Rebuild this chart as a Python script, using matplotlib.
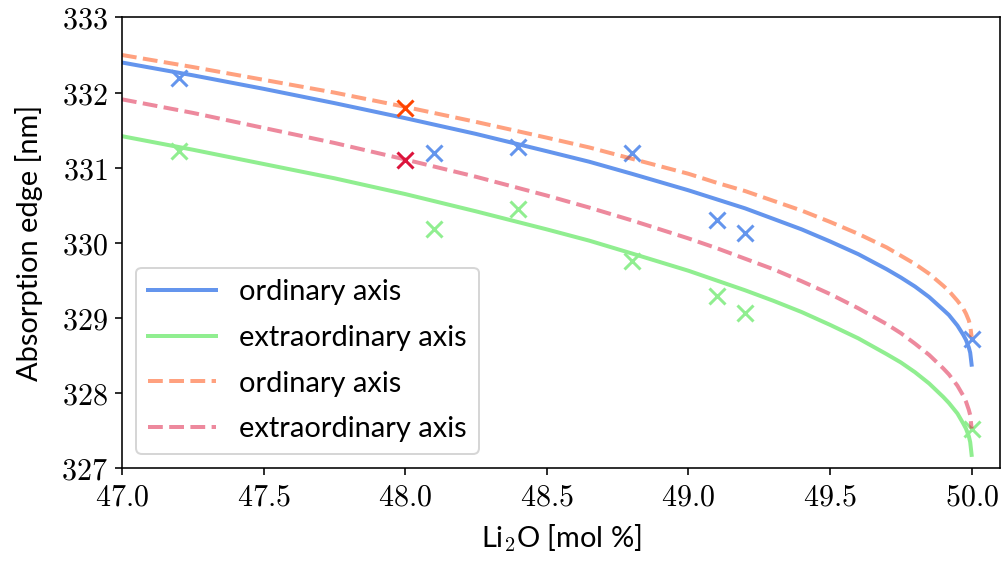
import matplotlib
matplotlib.use("Agg")
import matplotlib.pyplot as plt
from matplotlib.ticker import FuncFormatter

plt.rcParams["mathtext.fontset"] = "cm"
plt.rcParams["font.family"] = ["Lato", "DejaVu Sans"]

# measured absorption edges
li2o_meas = [47.2, 48.1, 48.4, 48.8, 49.1, 49.2, 50.0]
ord_meas = [332.2, 331.2, 331.27, 331.2, 330.3, 330.13, 328.72]
ext_meas = [331.22, 330.18, 330.45, 329.76, 329.29, 329.07, 327.52]

# single extra points at 48.0 mol %
li2o_extra = [48.0]
ord_extra = [331.8]
ext_extra = [331.1]

# fitted curves
li2o_fit = [47.0, 47.25, 47.5, 47.75, 48.0, 48.25, 48.5, 48.65, 48.8, 49.0,
            49.1, 49.2, 49.3, 49.4, 49.5, 49.6, 49.7, 49.75, 49.8, 49.85,
            49.9, 49.92, 49.95, 49.97, 49.98, 49.99, 49.995, 50.0]
ord_fit = [332.40, 332.23, 332.05, 331.86, 331.66, 331.45, 331.22, 331.08,
           330.92, 330.70, 330.58, 330.46, 330.32, 330.18, 330.02, 329.85,
           329.65, 329.54, 329.42, 329.28, 329.11, 329.04, 328.90, 328.78,
           328.71, 328.61, 328.54, 328.38]
ext_fit = [331.42, 331.24, 331.05, 330.86, 330.65, 330.42, 330.18, 330.03,
           329.86, 329.63, 329.50, 329.37, 329.23, 329.08, 328.91, 328.73,
           328.52, 328.41, 328.28, 328.13, 327.95, 327.87, 327.73, 327.60,
           327.53, 327.43, 327.35, 327.18]
ord_fit2 = [332.50, 332.34, 332.17, 332.00, 331.81, 331.61, 331.40, 331.27,
            331.12, 330.92, 330.80, 330.69, 330.56, 330.43, 330.28, 330.12,
            329.94, 329.83, 329.72, 329.59, 329.43, 329.36, 329.23, 329.13,
            329.06, 328.97, 328.90, 328.75]
ext_fit2 = [331.91, 331.73, 331.53, 331.33, 331.11, 330.88, 330.63, 330.47,
            330.30, 330.06, 329.93, 329.79, 329.65, 329.49, 329.32, 329.13,
            328.92, 328.80, 328.66, 328.51, 328.33, 328.25, 328.10, 327.97,
            327.89, 327.78, 327.71, 327.53]

fig, ax = plt.subplots(figsize=(7, 3.91), dpi=144)
fig.subplots_adjust(left=0.121, right=0.992, top=0.969, bottom=0.168)

ax.plot(li2o_fit, ord_fit, color="cornflowerblue", lw=2, label="ordinary axis")
ax.plot(li2o_fit, ext_fit, color="lightgreen", lw=2, label="extraordinary axis")
ax.plot(li2o_meas, ord_meas, "x", color="cornflowerblue", ms=8, mew=1.5)
ax.plot(li2o_meas, ext_meas, "x", color="lightgreen", ms=8, mew=1.5)

ax.plot(li2o_fit, ord_fit2, "--", color="orangered", alpha=0.5, lw=2,
        label="ordinary axis")
ax.plot(li2o_fit, ext_fit2, "--", color="crimson", alpha=0.5, lw=2,
        label="extraordinary axis")
ax.plot(li2o_extra, ord_extra, "x", color="orangered", ms=8, mew=1.5)
ax.plot(li2o_extra, ext_extra, "x", color="crimson", ms=8, mew=1.5)

ax.set_xlim(47, 50.1)
ax.set_ylim(327, 333)
ax.set_xticks([47.0, 47.5, 48.0, 48.5, 49.0, 49.5, 50.0])
ax.set_yticks([327, 328, 329, 330, 331, 332, 333])
ax.xaxis.set_major_formatter(FuncFormatter(lambda v, p: r"$%.1f$" % v))
ax.yaxis.set_major_formatter(FuncFormatter(lambda v, p: r"$%d$" % v))
ax.tick_params(labelsize=15)

ax.set_xlabel("Li$_2$O [mol %]", fontsize=14.5, labelpad=6)
ax.set_ylabel("Absorption edge [nm]", fontsize=14.5, labelpad=9)

ax.legend(loc="lower left", fontsize=14.5, handlelength=2.35,
          labelspacing=0.68)

fig.savefig("out.png", dpi=144)
